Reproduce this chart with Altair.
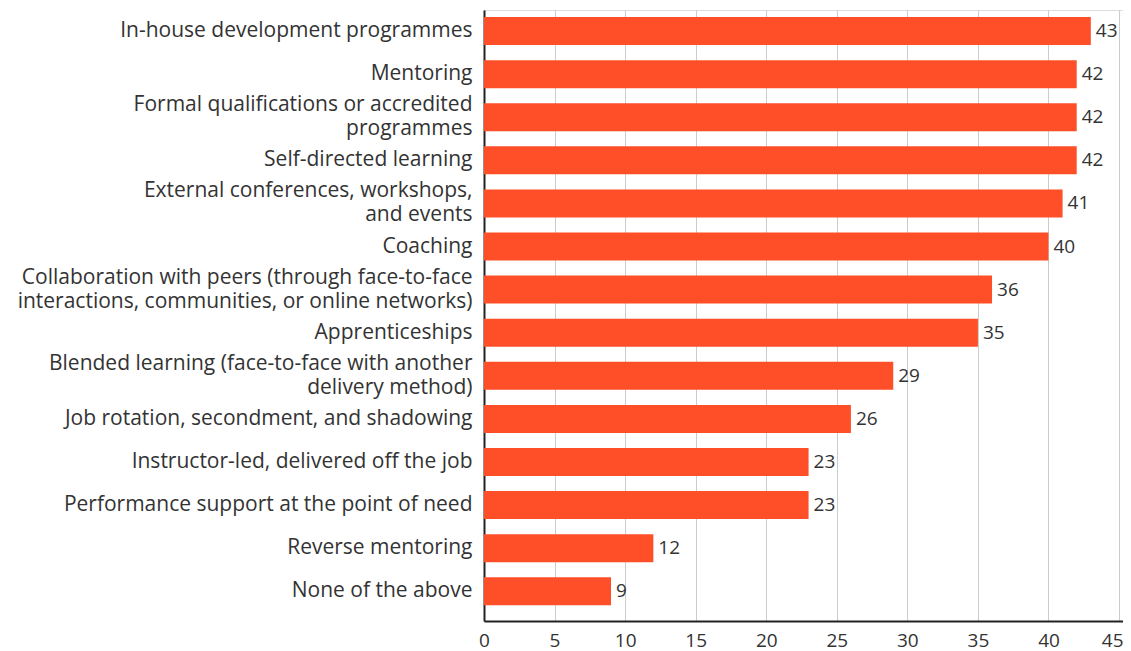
import altair as alt
import pandas as pd

categories = [
    "In-house development programmes",
    "Mentoring",
    "Formal qualifications or accredited|programmes",
    "Self-directed learning",
    "External conferences, workshops,|and events",
    "Coaching",
    "Collaboration with peers (through face-to-face|interactions, communities, or online networks)",
    "Apprenticeships",
    "Blended learning (face-to-face with another|delivery method)",
    "Job rotation, secondment, and shadowing",
    "Instructor-led, delivered off the job",
    "Performance support at the point of need",
    "Reverse mentoring",
    "None of the above",
]
values = [43, 42, 42, 42, 41, 40, 36, 35, 29, 26, 23, 23, 12, 9]
x_ticks = [0, 5, 10, 15, 20, 25, 30, 35, 40, 45]

df = pd.DataFrame({"cat": categories, "val": values})

FONT = "Open Sans"
TXT = "#333333"
BAR = "#FF4F28"

y_enc = alt.Y(
    "cat:N",
    sort=categories,
    scale=alt.Scale(paddingInner=0.35, paddingOuter=0.265, align=0.31),
    axis=alt.Axis(
        title=None,
        labelExpr="split(datum.value, '|')",
        labelFont=FONT,
        labelFontSize=21,
        labelColor=TXT,
        labelPadding=12,
        labelLineHeight=24,
        labelBaseline="middle",
        labelOffset={"condition": {"test": "indexof(datum.value, '|') >= 0", "value": -12}, "value": 0},
        labelLimit=600,
        ticks=False,
        domainColor="#222222",
        domainWidth=2,
        grid=False,
    ),
)
x_enc = alt.X(
    "val:Q",
    scale=alt.Scale(domain=[0, 45.28], nice=False),
    axis=alt.Axis(
        title=None,
        values=x_ticks,
        labelFont=FONT,
        labelFontSize=19,
        labelColor=TXT,
        labelPadding=10,
        labelAlign={"condition": {"test": "datum.value == 45", "value": "right"}, "value": "center"},
        labelOffset={"condition": {"test": "datum.value == 45", "value": 4}, "value": 0},
        ticks=False,
        domainColor="#222222",
        domainWidth=2,
        gridColor="#cccccc",
        gridWidth=1,
    ),
)

bars = alt.Chart(df).mark_bar(color=BAR).encode(x=x_enc, y=y_enc)
labels = alt.Chart(df).mark_text(
    align="left", baseline="middle", dx=5, font=FONT, fontSize=19, color=TXT
).encode(x="val:Q", y=alt.Y("cat:N", sort=categories), text="val:Q")

chart = (
    alt.layer(bars, labels)
    .properties(
        width=639,
        height=611,
        autosize=alt.AutoSizeParams(type="none"),
        padding={"left": 476, "top": 2, "right": 0, "bottom": 30},
    )
    .configure_view(stroke=None)
    .configure(background="white")
)

chart.save("out.html", embed_options={"renderer": "svg", "actions": False})
